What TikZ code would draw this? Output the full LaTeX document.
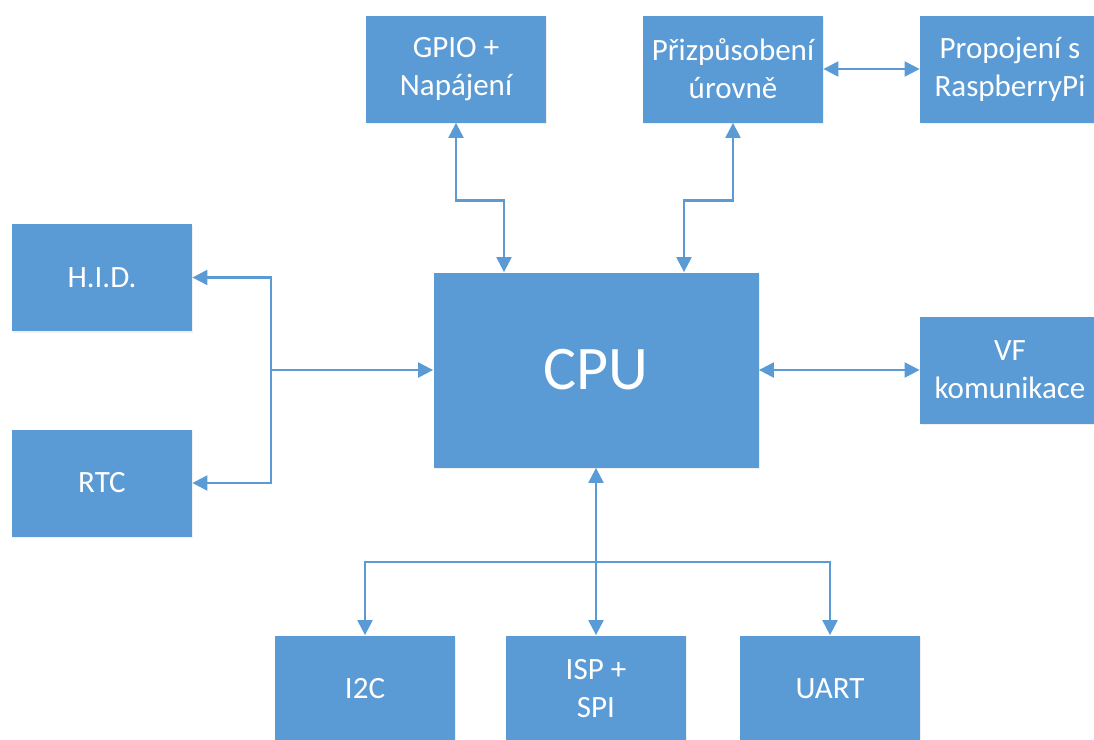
\documentclass[tikz,border=0pt]{standalone}
\usepackage{fontspec}
\setmainfont{Carlito}
\usepackage{tikz}
\usetikzlibrary{arrows.meta,positioning,shadows}
\definecolor{modra}{HTML}{5B9BD5}

\begin{document}
\begin{tikzpicture}[x=0.5pt, y=-0.5pt,
  blok/.style={rectangle, fill=modra, text=white, align=center, inner sep=0pt,
    minimum width=90pt, minimum height=53.5pt, font=\fontsize{15.5}{19}\selectfont,
    drop shadow={shadow xshift=0.6pt, shadow yshift=-0.8pt, opacity=0.12}},
  spoj/.style={draw=modra, line width=1.1pt},
  sipka/.style={spoj, -{Triangle[length=7.5pt,width=7.5pt]}},
  obou/.style={spoj, {Triangle[length=7.5pt,width=7.5pt]}-{Triangle[length=7.5pt,width=7.5pt]}}]
\clip (0,0) rectangle (1094,740);
\fill[white] (0,0) rectangle (1094,740);

% Top row
\node[blok] (gpio) at (456,69) {GPIO +\\Napájení};
\node[blok] (prizp) at (733,69) {Přizpůsobení\\úrovně};
\node[blok] (propoj) at (1010,69) {Propojení s\\RaspberryPi};

% Left
\node[blok] (hid) at (102,277.5) {H.I.D.};
\node[blok] (rtc) at (102,483) {RTC};

% CPU
\node[blok, minimum width=162.5pt, minimum height=97.5pt, font=\fontsize{31}{37}\selectfont] (cpu) at (596,370) {CPU};

% Right
\node[blok] (vf) at (1010,370) {VF\\komunikace};

% Bottom row
\node[blok] (i2c) at (365,689) {I2C};
\node[blok] (isp) at (596,689) {ISP +\\SPI};
\node[blok] (uart) at (830,689) {UART};

% Branch points
\coordinate (uzel1) at (271,370);
\coordinate (uzel2) at (596,562);

% Connections
\draw[obou] (gpio.south) -- ++(0,77.5) -| ([xshift=-46pt]cpu.north);
\draw[obou] (prizp.south) -- ++(0,77.5) -| ([xshift=44pt]cpu.north);
\draw[obou] (prizp.east) -- (propoj.west);
\draw[sipka] (uzel1) |- (hid.east);
\draw[sipka] (uzel1) |- (rtc.east);
\draw[sipka] (uzel1) -- (cpu.west);
\draw[obou] (cpu.east) -- (vf.west);
\draw[obou] (cpu.south) -- (isp.north);
\draw[sipka] (uzel2) -| (i2c.north);
\draw[sipka] (uzel2) -| (uart.north);
\end{tikzpicture}
\end{document}
